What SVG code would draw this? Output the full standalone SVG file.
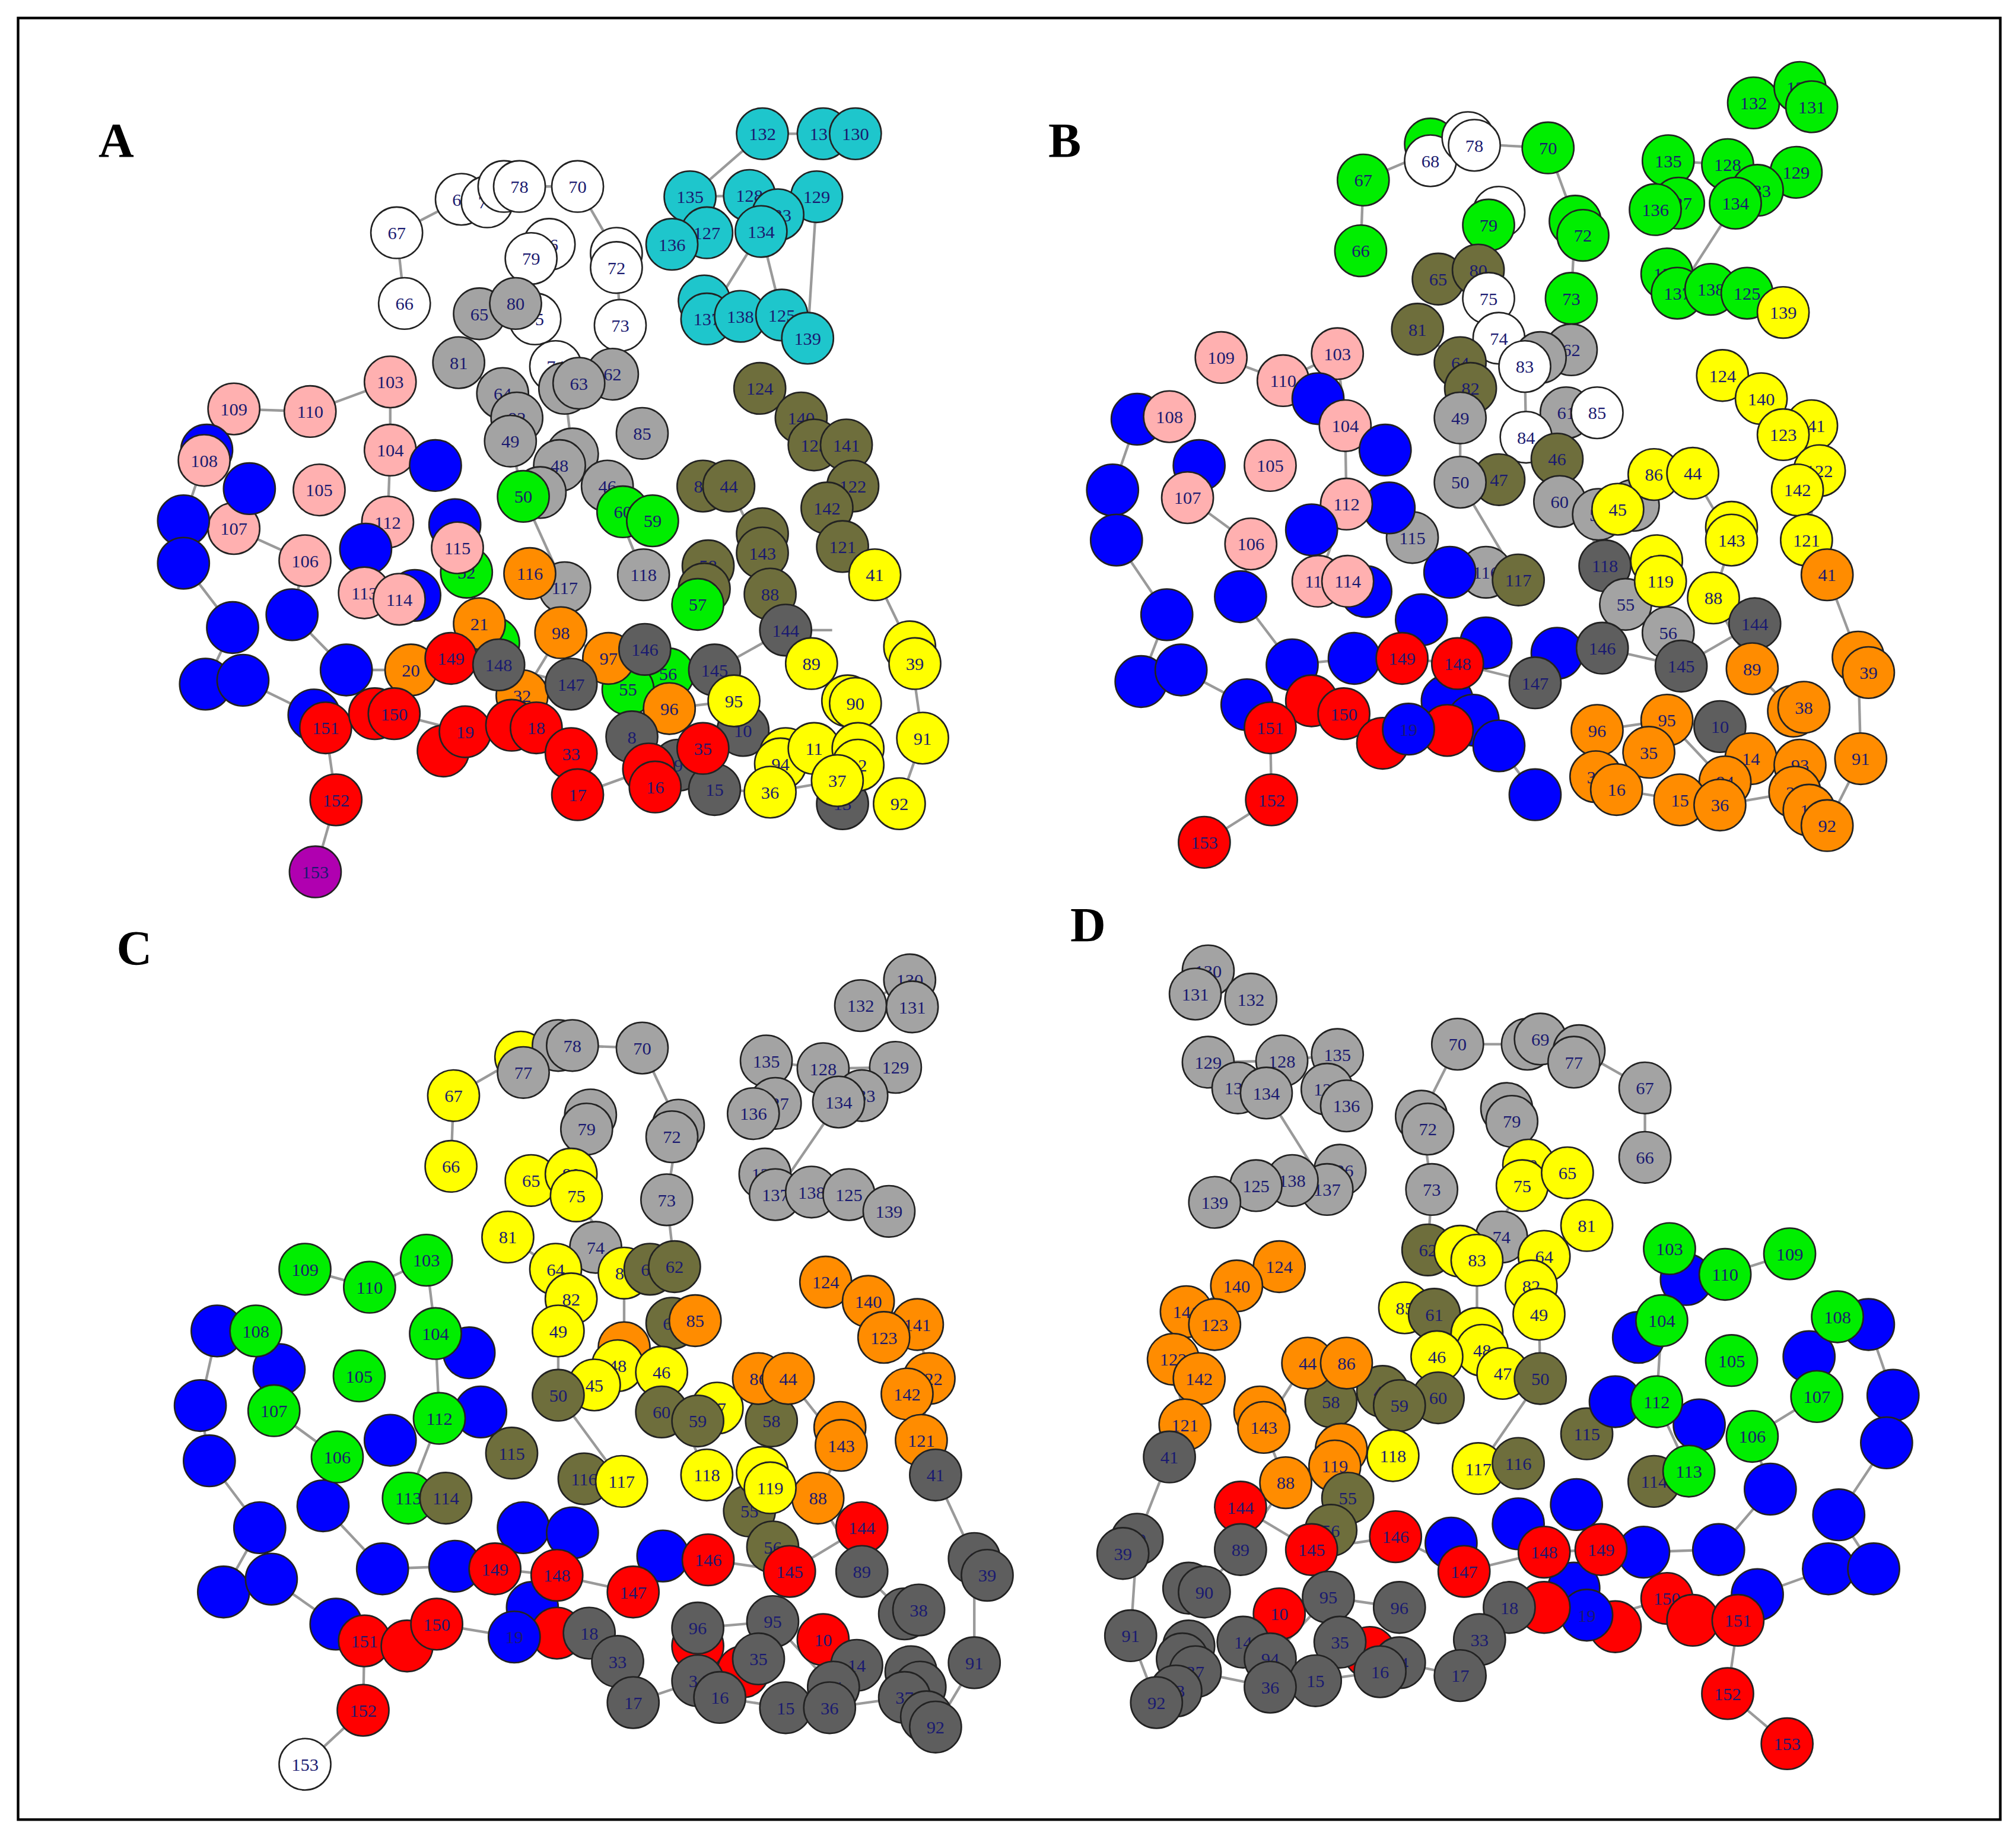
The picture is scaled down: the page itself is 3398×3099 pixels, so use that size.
<svg xmlns="http://www.w3.org/2000/svg" width="3398" height="3099" viewBox="0 0 3398 3099">
<style>
circle{stroke:#222;stroke-width:1.2}
text{font-family:"Liberation Serif",serif;font-size:14px;fill:#1a1a70;text-anchor:middle}
.lbl{font-size:38px;font-weight:bold;fill:#000}
.w circle{fill:#fff}.g circle{fill:#a3a3a3}.d circle{fill:#5e5e5e}.o circle{fill:#6e6e3c}
.c circle{fill:#1ec6cc}.p circle{fill:#ffb0b0}.b circle{fill:#0000ff}.r circle{fill:#ff0000}
.n circle{fill:#ff8c00}.y circle{fill:#ffff00}.e circle{fill:#00ee00}.m circle{fill:#b000b0}
.ed{stroke:#9a9a9a;stroke-width:2;fill:none}
</style>
<rect width="3398" height="3099" fill="#fff"/>
<g transform="scale(2.178,2.167)">
<rect x="14" y="14" width="1534" height="1401" fill="none" stroke="#000" stroke-width="2"/>
<text class="lbl" x="90" y="122">A</text><text class="lbl" x="824" y="122">B</text>
<text class="lbl" x="104" y="750">C</text><text class="lbl" x="842" y="732">D</text>
<g id="connectors">
<path class="ed" d="M590 104L637 104L662 104M534 153L580 152L632 153M580 152L589 180L547 248L573 246L605 245L625 263M520 190L547 181L534 153M605 245L589 180M588 302L620 325L655 346L660 378L652 425L677 447L704 503L714 574L696 625M544 378L564 378L590 430L596 462L628 516L656 546M307 181L313 236M307 181L357 155L402 145L447 145L477 197L480 253L474 291M371 244L399 236L414 248L437 302L443 353L470 378L498 447M355 282L389 306L400 325L395 343L405 386L437 457M181 318L240 320L302 297L302 350L300 406L282 461M158 358L142 405L142 438L180 488L159 532L188 529L243 556L252 566L260 622L244 678M181 411L236 436L226 478L268 521L318 521L349 512L386 517L442 532L499 505L553 521L608 490L644 490M305 555L360 569L415 566L442 586L447 618L502 598L507 612L553 614L596 616L648 607M404 541L434 492L471 512L518 551L568 545L604 592M588 302L630 346M590 104L534 153M632 153L625 263"/>
<path class="ed" d="M1357 80L1393 68L1402 83M1291 125L1337 128L1390 134M1337 128L1343 158L1298 228L1324 225L1352 228L1380 243M1281 163L1299 158L1291 125M1333 292L1363 310L1402 331L1408 366L1398 420L1414 447L1438 511L1440 590L1414 642M1280 369L1310 368L1340 420L1326 465L1356 520L1388 553M1055 140L1053 195M1055 140L1107 118L1141 112L1198 115L1219 172L1216 232L1216 272M1113 217L1144 210L1152 232L1180 285L1181 340L1205 357L1242 440M1097 256L1130 282L1138 302L1130 325L1130 375L1175 451M945 278L993 296L1035 275L1041 331L1042 392L1020 452M905 324L880 326L861 381L864 420L903 478L883 530L914 521L965 548L983 566L984 622L932 655M919 387L968 423L960 464L1000 517L1048 512L1085 512L1128 516L1188 531L1240 504L1301 518L1358 485M1040 555L1090 567L1135 550L1160 580L1188 618M1236 568L1290 560L1335 608M1235 604L1251 614L1300 622L1331 626L1389 616"/>
<path class="ed" d="M666 782L704 762L706 783M593 825L637 831L693 830M637 831L649 857L600 929L628 927L657 929L688 942M583 866L600 858L593 825M639 997L672 1012L710 1030L719 1072L713 1120L724 1147L754 1212L754 1293L724 1343M587 1072L610 1072L651 1124L633 1165L667 1222L700 1255M351 852L349 907M351 852L403 822L443 813L497 815L525 875L516 933L522 985M411 918L442 913L446 930L483 990L483 1048L512 1067L547 1147M393 962L430 987L442 1010L432 1035L432 1085L481 1152M236 987L286 1001L330 980L337 1037L340 1103L316 1165M198 1035L168 1035L155 1093L162 1136L201 1188L173 1238L210 1228L260 1263L282 1276L281 1330L236 1372M212 1097L261 1133L250 1171L296 1220L352 1218L383 1220L431 1225L490 1238L548 1213L611 1222L667 1188M338 1263L398 1273L456 1270L478 1292L490 1324L540 1307L557 1320L608 1328L642 1328L700 1320M540 1266L598 1261L645 1312"/>
<path class="ed" d="M968 777L935 755L925 773M1035 820L992 825L935 826M992 825L980 850L1027 925L1000 918L972 922L940 935M1042 860L1027 847L1035 820M990 985L957 1000L918 1020L908 1057L917 1108L905 1133L880 1197L875 1272L895 1324M1040 1060L1010 1060L978 1110L995 1153L960 1205L930 1238M1273 846L1273 900M1273 846L1222 817L1184 812L1128 812L1100 868L1108 925L1105 972M1213 912L1183 906L1178 922L1143 980L1143 1037L1112 1055L1078 1132M1228 953L1195 977L1185 1000L1191 1022L1192 1072L1144 1142M1385 975L1335 991L1292 971L1286 1027L1282 1090L1307 1144M1422 1024L1446 1030L1465 1085L1460 1122L1423 1178L1450 1220L1415 1220L1360 1240L1345 1260L1337 1317L1383 1356M1406 1086L1356 1117L1370 1158L1330 1205L1272 1207L1239 1205L1195 1207L1133 1222L1080 1195L1015 1205L960 1172M1290 1243L1228 1262L1168 1250L1145 1275L1130 1303L1083 1293L1068 1300L1018 1307L983 1312L925 1300M1083 1250L1028 1242L983 1290"/>
</g>
<!-- Panel A -->
<g id="A67" class="w"><circle cx="307" cy="181" r="20"/><text x="307" y="186">67</text></g>
<g id="A66" class="w"><circle cx="313" cy="236" r="20"/><text x="313" y="241">66</text></g>
<g id="A68" class="w"><circle cx="357" cy="155" r="20"/><text x="357" y="160">68</text></g>
<g id="A77" class="w"><circle cx="377" cy="157" r="20"/><text x="377" y="162">77</text></g>
<g id="A69" class="w"><circle cx="390" cy="145" r="20"/><text x="390" y="150">69</text></g>
<g id="A78" class="w"><circle cx="402" cy="145" r="20"/><text x="402" y="150">78</text></g>
<g id="A70" class="w"><circle cx="447" cy="145" r="20"/><text x="447" y="150">70</text></g>
<g id="A76" class="w"><circle cx="425" cy="190" r="20"/><text x="425" y="195">76</text></g>
<g id="A79" class="w"><circle cx="411" cy="201" r="20"/><text x="411" y="206">79</text></g>
<g id="A71" class="w"><circle cx="477" cy="197" r="20"/><text x="477" y="200">71</text></g>
<g id="A72" class="w"><circle cx="477" cy="208" r="20"/><text x="477" y="213">72</text></g>
<g id="A73" class="w"><circle cx="480" cy="253" r="20"/><text x="480" y="258">73</text></g>
<g id="A75" class="w"><circle cx="414" cy="248" r="20"/><text x="414" y="253">75</text></g>
<g id="A74" class="w"><circle cx="430" cy="285" r="20"/><text x="430" y="290">74</text></g>
<g id="A65" class="g"><circle cx="371" cy="244" r="20"/><text x="371" y="249">65</text></g>
<g id="A80" class="g"><circle cx="399" cy="236" r="20"/><text x="399" y="241">80</text></g>
<g id="A81" class="g"><circle cx="355" cy="282" r="20"/><text x="355" y="287">81</text></g>
<g id="A64" class="g"><circle cx="389" cy="306" r="20"/><text x="389" y="311">64</text></g>
<g id="A82" class="g"><circle cx="400" cy="325" r="20"/><text x="400" y="330">82</text></g>
<g id="A49" class="g"><circle cx="395" cy="343" r="20"/><text x="395" y="348">49</text></g>
<g id="A62" class="g"><circle cx="474" cy="291" r="20"/><text x="474" y="296">62</text></g>
<g id="A83" class="g"><circle cx="437" cy="302" r="20"/><text x="437" y="307">83</text></g>
<g id="A63" class="g"><circle cx="448" cy="298" r="20"/><text x="448" y="303">63</text></g>
<g id="A85" class="g"><circle cx="497" cy="337" r="20"/><text x="497" y="342">85</text></g>
<g id="A84" class="g"><circle cx="443" cy="353" r="20"/><text x="443" y="358">84</text></g>
<g id="A48" class="g"><circle cx="433" cy="362" r="20"/><text x="433" y="367">48</text></g>
<g id="A46" class="g"><circle cx="470" cy="378" r="20"/><text x="470" y="383">46</text></g>
<g id="A47" class="g"><circle cx="418" cy="383" r="20"/><text x="418" y="388">47</text></g>
<g id="A117" class="g"><circle cx="437" cy="457" r="20"/><text x="437" y="462">117</text></g>
<g id="A118" class="g"><circle cx="498" cy="447" r="20"/><text x="498" y="452">118</text></g>
<g id="A132" class="c"><circle cx="590" cy="104" r="20"/><text x="590" y="109">132</text></g>
<g id="A131" class="c"><circle cx="637" cy="104" r="20"/><text x="637" y="109">131</text></g>
<g id="A130" class="c"><circle cx="662" cy="104" r="20"/><text x="662" y="109">130</text></g>
<g id="A135" class="c"><circle cx="534" cy="153" r="20"/><text x="534" y="158">135</text></g>
<g id="A128" class="c"><circle cx="580" cy="152" r="20"/><text x="580" y="157">128</text></g>
<g id="A129" class="c"><circle cx="632" cy="153" r="20"/><text x="632" y="158">129</text></g>
<g id="A133" class="c"><circle cx="602" cy="167" r="20"/><text x="602" y="172">133</text></g>
<g id="A134" class="c"><circle cx="589" cy="180" r="20"/><text x="589" y="185">134</text></g>
<g id="A127" class="c"><circle cx="547" cy="181" r="20"/><text x="547" y="186">127</text></g>
<g id="A136" class="c"><circle cx="520" cy="190" r="20"/><text x="520" y="195">136</text></g>
<g id="A126" class="c"><circle cx="545" cy="234" r="20"/><text x="545" y="239">126</text></g>
<g id="A137" class="c"><circle cx="547" cy="248" r="20"/><text x="547" y="253">137</text></g>
<g id="A138" class="c"><circle cx="573" cy="246" r="20"/><text x="573" y="251">138</text></g>
<g id="A125" class="c"><circle cx="605" cy="245" r="20"/><text x="605" y="250">125</text></g>
<g id="A139" class="c"><circle cx="625" cy="263" r="20"/><text x="625" y="268">139</text></g>
<g id="A124" class="o"><circle cx="588" cy="302" r="20"/><text x="588" y="307">124</text></g>
<g id="A140" class="o"><circle cx="620" cy="325" r="20"/><text x="620" y="330">140</text></g>
<g id="A123" class="o"><circle cx="630" cy="346" r="20"/><text x="630" y="351">123</text></g>
<g id="A141" class="o"><circle cx="655" cy="346" r="20"/><text x="655" y="351">141</text></g>
<g id="A122" class="o"><circle cx="660" cy="378" r="20"/><text x="660" y="383">122</text></g>
<g id="A86" class="o"><circle cx="544" cy="378" r="20"/><text x="544" y="383">86</text></g>
<g id="A44" class="o"><circle cx="564" cy="378" r="20"/><text x="564" y="383">44</text></g>
<g id="A142" class="o"><circle cx="640" cy="395" r="20"/><text x="640" y="400">142</text></g>
<g id="A120" class="o"><circle cx="590" cy="415" r="20"/><text x="590" y="420">120</text></g>
<g id="A143" class="o"><circle cx="590" cy="430" r="20"/><text x="590" y="435">143</text></g>
<g id="A121" class="o"><circle cx="652" cy="425" r="20"/><text x="652" y="430">121</text></g>
<g id="A58" class="o"><circle cx="548" cy="440" r="20"/><text x="548" y="445">58</text></g>
<g id="A119" class="o"><circle cx="545" cy="458" r="20"/><text x="545" y="463">119</text></g>
<g id="A88" class="o"><circle cx="596" cy="462" r="20"/><text x="596" y="467">88</text></g>
<g id="A50" class="e"><circle cx="405" cy="386" r="20"/><text x="405" y="391">50</text></g>
<g id="A60" class="e"><circle cx="482" cy="398" r="20"/><text x="482" y="403">60</text></g>
<g id="A59" class="e"><circle cx="505" cy="405" r="20"/><text x="505" y="410">59</text></g>
<g id="A52" class="e"><circle cx="361" cy="445" r="20"/><text x="361" y="450">52</text></g>
<g id="A57" class="e"><circle cx="540" cy="470" r="20"/><text x="540" y="475">57</text></g>
<g id="A53" class="e"><circle cx="382" cy="500" r="20"/><text x="382" y="505">53</text></g>
<g id="A56" class="e"><circle cx="517" cy="524" r="20"/><text x="517" y="529">56</text></g>
<g id="A55" class="e"><circle cx="486" cy="536" r="20"/><text x="486" y="541">55</text></g>
<g id="A109" class="p"><circle cx="181" cy="318" r="20"/><text x="181" y="323">109</text></g>
<g id="A110" class="p"><circle cx="240" cy="320" r="20"/><text x="240" y="325">110</text></g>
<g id="A103" class="p"><circle cx="302" cy="297" r="20"/><text x="302" y="302">103</text></g>
<g id="A104" class="p"><circle cx="302" cy="350" r="20"/><text x="302" y="355">104</text></g>
<g id="AB1" class="b"><circle cx="160" cy="350" r="20"/></g>
<g id="A108" class="p"><circle cx="158" cy="358" r="20"/><text x="158" y="363">108</text></g>
<g id="A107" class="p"><circle cx="181" cy="411" r="20"/><text x="181" y="416">107</text></g>
<g id="A105" class="p"><circle cx="247" cy="381" r="20"/><text x="247" y="386">105</text></g>
<g id="A106" class="p"><circle cx="236" cy="436" r="20"/><text x="236" y="441">106</text></g>
<g id="A112" class="p"><circle cx="300" cy="406" r="20"/><text x="300" y="411">112</text></g>
<g id="AB2" class="b"><circle cx="193" cy="380" r="20"/></g>
<g id="AB3" class="b"><circle cx="142" cy="405" r="20"/></g>
<g id="AB4" class="b"><circle cx="142" cy="438" r="20"/></g>
<g id="AB5" class="b"><circle cx="180" cy="488" r="20"/></g>
<g id="AB6" class="b"><circle cx="226" cy="478" r="20"/></g>
<g id="AB7" class="b"><circle cx="159" cy="532" r="20"/></g>
<g id="AB8" class="b"><circle cx="188" cy="529" r="20"/></g>
<g id="AB9" class="b"><circle cx="268" cy="521" r="20"/></g>
<g id="AB10" class="b"><circle cx="243" cy="556" r="20"/></g>
<g id="AB11" class="b"><circle cx="283" cy="427" r="20"/></g>
<g id="AB12" class="b"><circle cx="337" cy="362" r="20"/></g>
<g id="AB13" class="b"><circle cx="321" cy="463" r="20"/></g>
<g id="AB14" class="b"><circle cx="352" cy="408" r="20"/></g>
<g id="A113" class="p"><circle cx="282" cy="461" r="20"/><text x="282" y="466">113</text></g>
<g id="A114" class="p"><circle cx="309" cy="466" r="20"/><text x="309" y="471">114</text></g>
<g id="A115" class="p"><circle cx="354" cy="426" r="20"/><text x="354" y="431">115</text></g>
<g id="A116" class="n"><circle cx="410" cy="446" r="20"/><text x="410" y="451">116</text></g>
<g id="A21" class="n"><circle cx="371" cy="485" r="20"/><text x="371" y="490">21</text></g>
<g id="A98" class="n"><circle cx="434" cy="492" r="20"/><text x="434" y="497">98</text></g>
<g id="A97" class="n"><circle cx="471" cy="512" r="20"/><text x="471" y="517">97</text></g>
<g id="A20" class="n"><circle cx="318" cy="521" r="20"/><text x="318" y="526">20</text></g>
<g id="A32" class="n"><circle cx="404" cy="541" r="20"/><text x="404" y="546">32</text></g>
<g id="A96" class="n"><circle cx="518" cy="551" r="20"/><text x="518" y="556">96</text></g>
<g id="A149" class="r"><circle cx="349" cy="512" r="20"/><text x="349" y="517">149</text></g>
<g id="A148" class="d"><circle cx="386" cy="517" r="20"/><text x="386" y="522">148</text></g>
<g id="A147" class="d"><circle cx="442" cy="532" r="20"/><text x="442" y="537">147</text></g>
<g id="A146" class="d"><circle cx="499" cy="505" r="20"/><text x="499" y="510">146</text></g>
<g id="A145" class="d"><circle cx="553" cy="521" r="20"/><text x="553" y="526">145</text></g>
<g id="A144" class="d"><circle cx="608" cy="490" r="20"/><text x="608" y="495">144</text></g>
<g id="A8" class="d"><circle cx="489" cy="573" r="20"/><text x="489" y="578">8</text></g>
<g id="A10" class="d"><circle cx="575" cy="568" r="20"/><text x="575" y="573">10</text></g>
<g id="A9" class="d"><circle cx="525" cy="595" r="20"/><text x="525" y="600">9</text></g>
<g id="A15" class="d"><circle cx="553" cy="614" r="20"/><text x="553" y="619">15</text></g>
<g id="A13" class="d"><circle cx="652" cy="625" r="20"/><text x="652" y="630">13</text></g>
<g id="A151" class="r"><circle cx="252" cy="566" r="20"/><text x="252" y="571">151</text></g>
<g id="AR1" class="r"><circle cx="290" cy="555" r="20"/></g>
<g id="A150" class="r"><circle cx="305" cy="555" r="20"/><text x="305" y="560">150</text></g>
<g id="AR2" class="r"><circle cx="343" cy="584" r="20"/></g>
<g id="A19" class="r"><circle cx="360" cy="569" r="20"/><text x="360" y="574">19</text></g>
<g id="AR3" class="r"><circle cx="396" cy="564" r="20"/></g>
<g id="A18" class="r"><circle cx="415" cy="566" r="20"/><text x="415" y="571">18</text></g>
<g id="A33" class="r"><circle cx="442" cy="586" r="20"/><text x="442" y="591">33</text></g>
<g id="A17" class="r"><circle cx="447" cy="618" r="20"/><text x="447" y="623">17</text></g>
<g id="A34" class="r"><circle cx="502" cy="598" r="20"/><text x="502" y="603">34</text></g>
<g id="A16" class="r"><circle cx="507" cy="612" r="20"/><text x="507" y="617">16</text></g>
<g id="A35" class="r"><circle cx="544" cy="582" r="20"/><text x="544" y="587">35</text></g>
<g id="A152" class="r"><circle cx="260" cy="622" r="20"/><text x="260" y="627">152</text></g>
<g id="A153" class="m"><circle cx="244" cy="678" r="20"/><text x="244" y="683">153</text></g>
<g id="A41" class="y"><circle cx="677" cy="447" r="20"/><text x="677" y="452">41</text></g>
<g id="A40" class="y"><circle cx="704" cy="503" r="20"/><text x="704" y="508">40</text></g>
<g id="A39" class="y"><circle cx="708" cy="516" r="20"/><text x="708" y="521">39</text></g>
<g id="A89" class="y"><circle cx="628" cy="516" r="20"/><text x="628" y="521">89</text></g>
<g id="A95" class="y"><circle cx="568" cy="545" r="20"/><text x="568" y="550">95</text></g>
<g id="A38" class="y"><circle cx="656" cy="545" r="20"/><text x="656" y="550">38</text></g>
<g id="A90" class="y"><circle cx="662" cy="547" r="20"/><text x="662" y="552">90</text></g>
<g id="A14" class="y"><circle cx="608" cy="586" r="20"/><text x="608" y="591">14</text></g>
<g id="A94" class="y"><circle cx="604" cy="594" r="20"/><text x="604" y="599">94</text></g>
<g id="A11" class="y"><circle cx="630" cy="582" r="20"/><text x="630" y="587">11</text></g>
<g id="A93" class="y"><circle cx="664" cy="582" r="20"/><text x="664" y="587">93</text></g>
<g id="A12" class="y"><circle cx="664" cy="595" r="20"/><text x="664" y="600">12</text></g>
<g id="A91" class="y"><circle cx="714" cy="574" r="20"/><text x="714" y="579">91</text></g>
<g id="A37" class="y"><circle cx="648" cy="607" r="20"/><text x="648" y="612">37</text></g>
<g id="A36" class="y"><circle cx="596" cy="616" r="20"/><text x="596" y="621">36</text></g>
<g id="A92" class="y"><circle cx="696" cy="625" r="20"/><text x="696" y="630">92</text></g>
<!-- Panel B -->
<g id="B132" class="e"><circle cx="1357" cy="80" r="20"/><text x="1357" y="85">132</text></g>
<g id="B130" class="e"><circle cx="1393" cy="68" r="20"/><text x="1393" y="73">130</text></g>
<g id="B131" class="e"><circle cx="1402" cy="83" r="20"/><text x="1402" y="88">131</text></g>
<g id="B70" class="e"><circle cx="1198" cy="115" r="20"/><text x="1198" y="120">70</text></g>
<g id="B67" class="e"><circle cx="1055" cy="140" r="20"/><text x="1055" y="145">67</text></g>
<g id="B66" class="e"><circle cx="1053" cy="195" r="20"/><text x="1053" y="200">66</text></g>
<g id="B77" class="e"><circle cx="1107" cy="112" r="20"/><text x="1107" y="117">77</text></g>
<g id="B68" class="w"><circle cx="1107" cy="125" r="20"/><text x="1107" y="130">68</text></g>
<g id="B69" class="w"><circle cx="1136" cy="107" r="20"/><text x="1136" y="112">69</text></g>
<g id="B78" class="w"><circle cx="1141" cy="113" r="20"/><text x="1141" y="118">78</text></g>
<g id="B135" class="e"><circle cx="1291" cy="125" r="20"/><text x="1291" y="130">135</text></g>
<g id="B128" class="e"><circle cx="1337" cy="128" r="20"/><text x="1337" y="133">128</text></g>
<g id="B129" class="e"><circle cx="1390" cy="134" r="20"/><text x="1390" y="139">129</text></g>
<g id="B133" class="e"><circle cx="1360" cy="148" r="20"/><text x="1360" y="153">133</text></g>
<g id="B134" class="e"><circle cx="1343" cy="158" r="20"/><text x="1343" y="163">134</text></g>
<g id="B127" class="e"><circle cx="1299" cy="158" r="20"/><text x="1299" y="163">127</text></g>
<g id="B136" class="e"><circle cx="1281" cy="163" r="20"/><text x="1281" y="168">136</text></g>
<g id="B76" class="w"><circle cx="1160" cy="165" r="20"/><text x="1160" y="170">76</text></g>
<g id="B79" class="e"><circle cx="1152" cy="175" r="20"/><text x="1152" y="180">79</text></g>
<g id="B71" class="e"><circle cx="1219" cy="172" r="20"/><text x="1219" y="177">71</text></g>
<g id="B72" class="e"><circle cx="1225" cy="183" r="20"/><text x="1225" y="188">72</text></g>
<g id="B73" class="e"><circle cx="1216" cy="232" r="20"/><text x="1216" y="237">73</text></g>
<g id="B126" class="e"><circle cx="1290" cy="213" r="20"/><text x="1290" y="218">126</text></g>
<g id="B137" class="e"><circle cx="1298" cy="228" r="20"/><text x="1298" y="233">137</text></g>
<g id="B138" class="e"><circle cx="1324" cy="225" r="20"/><text x="1324" y="230">138</text></g>
<g id="B125" class="e"><circle cx="1352" cy="228" r="20"/><text x="1352" y="233">125</text></g>
<g id="B139" class="y"><circle cx="1380" cy="243" r="20"/><text x="1380" y="248">139</text></g>
<g id="B65" class="o"><circle cx="1113" cy="217" r="20"/><text x="1113" y="222">65</text></g>
<g id="B80" class="o"><circle cx="1144" cy="210" r="20"/><text x="1144" y="215">80</text></g>
<g id="B75" class="w"><circle cx="1152" cy="232" r="20"/><text x="1152" y="237">75</text></g>
<g id="B81" class="o"><circle cx="1097" cy="256" r="20"/><text x="1097" y="261">81</text></g>
<g id="B74" class="w"><circle cx="1160" cy="263" r="20"/><text x="1160" y="268">74</text></g>
<g id="B62" class="g"><circle cx="1216" cy="272" r="20"/><text x="1216" y="277">62</text></g>
<g id="B63" class="g"><circle cx="1192" cy="278" r="20"/><text x="1192" y="283">63</text></g>
<g id="B64" class="o"><circle cx="1130" cy="282" r="20"/><text x="1130" y="287">64</text></g>
<g id="B83" class="w"><circle cx="1180" cy="285" r="20"/><text x="1180" y="290">83</text></g>
<g id="B82" class="o"><circle cx="1138" cy="302" r="20"/><text x="1138" y="307">82</text></g>
<g id="B49" class="g"><circle cx="1130" cy="325" r="20"/><text x="1130" y="330">49</text></g>
<g id="B61" class="g"><circle cx="1212" cy="321" r="20"/><text x="1212" y="326">61</text></g>
<g id="B85" class="w"><circle cx="1236" cy="321" r="20"/><text x="1236" y="326">85</text></g>
<g id="B84" class="w"><circle cx="1181" cy="340" r="20"/><text x="1181" y="345">84</text></g>
<g id="B46" class="o"><circle cx="1205" cy="357" r="20"/><text x="1205" y="362">46</text></g>
<g id="B47" class="o"><circle cx="1160" cy="373" r="20"/><text x="1160" y="378">47</text></g>
<g id="B50" class="g"><circle cx="1130" cy="375" r="20"/><text x="1130" y="380">50</text></g>
<g id="B60" class="g"><circle cx="1207" cy="390" r="20"/><text x="1207" y="395">60</text></g>
<g id="B59" class="g"><circle cx="1237" cy="400" r="20"/><text x="1237" y="405">59</text></g>
<g id="B58" class="g"><circle cx="1264" cy="393" r="20"/><text x="1264" y="398">58</text></g>
<g id="B115" class="g"><circle cx="1093" cy="418" r="20"/><text x="1093" y="423">115</text></g>
<g id="B116" class="g"><circle cx="1150" cy="445" r="20"/><text x="1150" y="450">116</text></g>
<g id="B117" class="o"><circle cx="1175" cy="451" r="20"/><text x="1175" y="456">117</text></g>
<g id="B118" class="d"><circle cx="1242" cy="440" r="20"/><text x="1242" y="445">118</text></g>
<g id="B55" class="g"><circle cx="1258" cy="470" r="20"/><text x="1258" y="475">55</text></g>
<g id="B56" class="g"><circle cx="1291" cy="492" r="20"/><text x="1291" y="497">56</text></g>
<g id="B124" class="y"><circle cx="1333" cy="292" r="20"/><text x="1333" y="297">124</text></g>
<g id="B140" class="y"><circle cx="1363" cy="310" r="20"/><text x="1363" y="315">140</text></g>
<g id="B141" class="y"><circle cx="1402" cy="331" r="20"/><text x="1402" y="336">141</text></g>
<g id="B123" class="y"><circle cx="1380" cy="338" r="20"/><text x="1380" y="343">123</text></g>
<g id="B122" class="y"><circle cx="1408" cy="366" r="20"/><text x="1408" y="371">122</text></g>
<g id="B142" class="y"><circle cx="1391" cy="381" r="20"/><text x="1391" y="386">142</text></g>
<g id="B86" class="y"><circle cx="1280" cy="369" r="20"/><text x="1280" y="374">86</text></g>
<g id="B44" class="y"><circle cx="1310" cy="368" r="20"/><text x="1310" y="373">44</text></g>
<g id="B45" class="y"><circle cx="1252" cy="396" r="20"/><text x="1252" y="401">45</text></g>
<g id="B120" class="y"><circle cx="1340" cy="410" r="20"/><text x="1340" y="415">120</text></g>
<g id="B143" class="y"><circle cx="1340" cy="420" r="20"/><text x="1340" y="425">143</text></g>
<g id="B121" class="y"><circle cx="1398" cy="420" r="20"/><text x="1398" y="425">121</text></g>
<g id="B87" class="y"><circle cx="1282" cy="436" r="20"/><text x="1282" y="441">87</text></g>
<g id="B119" class="y"><circle cx="1285" cy="452" r="20"/><text x="1285" y="457">119</text></g>
<g id="B88" class="y"><circle cx="1326" cy="465" r="20"/><text x="1326" y="470">88</text></g>
<g id="B109" class="p"><circle cx="945" cy="278" r="20"/><text x="945" y="283">109</text></g>
<g id="B110" class="p"><circle cx="993" cy="296" r="20"/><text x="993" y="301">110</text></g>
<g id="B103" class="p"><circle cx="1035" cy="275" r="20"/><text x="1035" y="280">103</text></g>
<g id="BB1" class="b"><circle cx="1020" cy="310" r="20"/></g>
<g id="B104" class="p"><circle cx="1041" cy="331" r="20"/><text x="1041" y="336">104</text></g>
<g id="BB2" class="b"><circle cx="880" cy="326" r="20"/></g>
<g id="B108" class="p"><circle cx="905" cy="324" r="20"/><text x="905" y="329">108</text></g>
<g id="BB3" class="b"><circle cx="1072" cy="350" r="20"/></g>
<g id="BB4" class="b"><circle cx="928" cy="362" r="20"/></g>
<g id="B105" class="p"><circle cx="983" cy="362" r="20"/><text x="983" y="367">105</text></g>
<g id="BB5" class="b"><circle cx="861" cy="381" r="20"/></g>
<g id="B107" class="p"><circle cx="919" cy="387" r="20"/><text x="919" y="392">107</text></g>
<g id="BB6" class="b"><circle cx="1075" cy="395" r="20"/></g>
<g id="B112" class="p"><circle cx="1042" cy="392" r="20"/><text x="1042" y="397">112</text></g>
<g id="BB7" class="b"><circle cx="864" cy="420" r="20"/></g>
<g id="BB8" class="b"><circle cx="1015" cy="412" r="20"/></g>
<g id="B106" class="p"><circle cx="968" cy="423" r="20"/><text x="968" y="428">106</text></g>
<g id="BB9" class="b"><circle cx="1122" cy="445" r="20"/></g>
<g id="BB10" class="b"><circle cx="1057" cy="460" r="20"/></g>
<g id="B113" class="p"><circle cx="1020" cy="452" r="20"/><text x="1020" y="457">113</text></g>
<g id="B114" class="p"><circle cx="1043" cy="452" r="20"/><text x="1043" y="457">114</text></g>
<g id="BB11" class="b"><circle cx="903" cy="478" r="20"/></g>
<g id="BB12" class="b"><circle cx="960" cy="464" r="20"/></g>
<g id="BB13" class="b"><circle cx="1100" cy="482" r="20"/></g>
<g id="BB14" class="b"><circle cx="1150" cy="500" r="20"/></g>
<g id="BB15" class="b"><circle cx="1205" cy="508" r="20"/></g>
<g id="BB16" class="b"><circle cx="883" cy="530" r="20"/></g>
<g id="BB17" class="b"><circle cx="914" cy="521" r="20"/></g>
<g id="BB18" class="b"><circle cx="1000" cy="517" r="20"/></g>
<g id="BB19" class="b"><circle cx="1048" cy="512" r="20"/></g>
<g id="BB20" class="b"><circle cx="965" cy="548" r="20"/></g>
<g id="BB21" class="b"><circle cx="1120" cy="545" r="20"/></g>
<g id="BB22" class="b"><circle cx="1140" cy="560" r="20"/></g>
<g id="BB23" class="b"><circle cx="1160" cy="580" r="20"/></g>
<g id="BB24" class="b"><circle cx="1188" cy="618" r="20"/></g>
<g id="B149" class="r"><circle cx="1085" cy="512" r="20"/><text x="1085" y="517">149</text></g>
<g id="B148" class="r"><circle cx="1128" cy="516" r="20"/><text x="1128" y="521">148</text></g>
<g id="BR1" class="r"><circle cx="1015" cy="545" r="20"/></g>
<g id="B150" class="r"><circle cx="1040" cy="555" r="20"/><text x="1040" y="560">150</text></g>
<g id="B151" class="r"><circle cx="983" cy="566" r="20"/><text x="983" y="571">151</text></g>
<g id="BR2" class="r"><circle cx="1070" cy="578" r="20"/></g>
<g id="BR3" class="r"><circle cx="1120" cy="568" r="20"/></g>
<g id="B19" class="b"><circle cx="1090" cy="567" r="20"/><text x="1090" y="572">19</text></g>
<g id="B152" class="r"><circle cx="984" cy="622" r="20"/><text x="984" y="627">152</text></g>
<g id="B153" class="r"><circle cx="932" cy="655" r="20"/><text x="932" y="660">153</text></g>
<g id="B147" class="d"><circle cx="1188" cy="531" r="20"/><text x="1188" y="536">147</text></g>
<g id="B146" class="d"><circle cx="1240" cy="504" r="20"/><text x="1240" y="509">146</text></g>
<g id="B145" class="d"><circle cx="1301" cy="518" r="20"/><text x="1301" y="523">145</text></g>
<g id="B144" class="d"><circle cx="1358" cy="485" r="20"/><text x="1358" y="490">144</text></g>
<g id="B10" class="d"><circle cx="1331" cy="565" r="20"/><text x="1331" y="570">10</text></g>
<g id="B41" class="n"><circle cx="1414" cy="447" r="20"/><text x="1414" y="452">41</text></g>
<g id="B40" class="n"><circle cx="1438" cy="511" r="20"/><text x="1438" y="516">40</text></g>
<g id="B39" class="n"><circle cx="1446" cy="523" r="20"/><text x="1446" y="528">39</text></g>
<g id="B89" class="n"><circle cx="1356" cy="520" r="20"/><text x="1356" y="525">89</text></g>
<g id="B95" class="n"><circle cx="1290" cy="560" r="20"/><text x="1290" y="565">95</text></g>
<g id="B96" class="n"><circle cx="1236" cy="568" r="20"/><text x="1236" y="573">96</text></g>
<g id="B90" class="n"><circle cx="1388" cy="553" r="20"/><text x="1388" y="558">90</text></g>
<g id="B38" class="n"><circle cx="1396" cy="550" r="20"/><text x="1396" y="555">38</text></g>
<g id="B35" class="n"><circle cx="1276" cy="585" r="20"/><text x="1276" y="590">35</text></g>
<g id="B14" class="n"><circle cx="1355" cy="590" r="20"/><text x="1355" y="595">14</text></g>
<g id="B93" class="n"><circle cx="1393" cy="595" r="20"/><text x="1393" y="600">93</text></g>
<g id="B91" class="n"><circle cx="1440" cy="590" r="20"/><text x="1440" y="595">91</text></g>
<g id="B34" class="n"><circle cx="1235" cy="604" r="20"/><text x="1235" y="609">34</text></g>
<g id="B16" class="n"><circle cx="1251" cy="614" r="20"/><text x="1251" y="619">16</text></g>
<g id="B94" class="n"><circle cx="1335" cy="608" r="20"/><text x="1335" y="613">94</text></g>
<g id="B37" class="n"><circle cx="1389" cy="616" r="20"/><text x="1389" y="621">37</text></g>
<g id="B15" class="n"><circle cx="1300" cy="622" r="20"/><text x="1300" y="627">15</text></g>
<g id="B36" class="n"><circle cx="1331" cy="626" r="20"/><text x="1331" y="631">36</text></g>
<g id="B13" class="n"><circle cx="1400" cy="630" r="20"/><text x="1400" y="635">13</text></g>
<g id="B92" class="n"><circle cx="1414" cy="642" r="20"/><text x="1414" y="647">92</text></g>
<!-- Panel C -->
<g id="C132" class="g"><circle cx="666" cy="782" r="20"/><text x="666" y="787">132</text></g>
<g id="C130" class="g"><circle cx="704" cy="762" r="20"/><text x="704" y="767">130</text></g>
<g id="C131" class="g"><circle cx="706" cy="783" r="20"/><text x="706" y="788">131</text></g>
<g id="C135" class="g"><circle cx="593" cy="825" r="20"/><text x="593" y="830">135</text></g>
<g id="C128" class="g"><circle cx="637" cy="831" r="20"/><text x="637" y="836">128</text></g>
<g id="C129" class="g"><circle cx="693" cy="830" r="20"/><text x="693" y="835">129</text></g>
<g id="C133" class="g"><circle cx="667" cy="852" r="20"/><text x="667" y="857">133</text></g>
<g id="C134" class="g"><circle cx="649" cy="857" r="20"/><text x="649" y="862">134</text></g>
<g id="C127" class="g"><circle cx="600" cy="858" r="20"/><text x="600" y="863">127</text></g>
<g id="C136" class="g"><circle cx="583" cy="866" r="20"/><text x="583" y="871">136</text></g>
<g id="C70" class="g"><circle cx="497" cy="815" r="20"/><text x="497" y="820">70</text></g>
<g id="C68" class="y"><circle cx="403" cy="822" r="20"/><text x="403" y="827">68</text></g>
<g id="C69" class="g"><circle cx="432" cy="813" r="20"/><text x="432" y="818">69</text></g>
<g id="C78" class="g"><circle cx="443" cy="813" r="20"/><text x="443" y="818">78</text></g>
<g id="C77" class="g"><circle cx="405" cy="834" r="20"/><text x="405" y="839">77</text></g>
<g id="C76" class="g"><circle cx="457" cy="867" r="20"/><text x="457" y="872">76</text></g>
<g id="C79" class="g"><circle cx="454" cy="878" r="20"/><text x="454" y="883">79</text></g>
<g id="C71" class="g"><circle cx="525" cy="875" r="20"/><text x="525" y="880">71</text></g>
<g id="C72" class="g"><circle cx="520" cy="884" r="20"/><text x="520" y="889">72</text></g>
<g id="C73" class="g"><circle cx="516" cy="933" r="20"/><text x="516" y="938">73</text></g>
<g id="C126" class="g"><circle cx="592" cy="913" r="20"/><text x="592" y="918">126</text></g>
<g id="C137" class="g"><circle cx="600" cy="929" r="20"/><text x="600" y="934">137</text></g>
<g id="C138" class="g"><circle cx="628" cy="927" r="20"/><text x="628" y="932">138</text></g>
<g id="C125" class="g"><circle cx="657" cy="929" r="20"/><text x="657" y="934">125</text></g>
<g id="C139" class="g"><circle cx="688" cy="942" r="20"/><text x="688" y="947">139</text></g>
<g id="C67" class="y"><circle cx="351" cy="852" r="20"/><text x="351" y="857">67</text></g>
<g id="C66" class="y"><circle cx="349" cy="907" r="20"/><text x="349" y="912">66</text></g>
<g id="C65" class="y"><circle cx="411" cy="918" r="20"/><text x="411" y="923">65</text></g>
<g id="C80" class="y"><circle cx="442" cy="913" r="20"/><text x="442" y="918">80</text></g>
<g id="C75" class="y"><circle cx="446" cy="930" r="20"/><text x="446" y="935">75</text></g>
<g id="C81" class="y"><circle cx="393" cy="962" r="20"/><text x="393" y="967">81</text></g>
<g id="C74" class="g"><circle cx="461" cy="970" r="20"/><text x="461" y="975">74</text></g>
<g id="C64" class="y"><circle cx="430" cy="987" r="20"/><text x="430" y="992">64</text></g>
<g id="C83" class="y"><circle cx="483" cy="990" r="20"/><text x="483" y="995">83</text></g>
<g id="C63" class="o"><circle cx="503" cy="987" r="20"/><text x="503" y="992">63</text></g>
<g id="C62" class="o"><circle cx="522" cy="985" r="20"/><text x="522" y="990">62</text></g>
<g id="C82" class="y"><circle cx="442" cy="1010" r="20"/><text x="442" y="1015">82</text></g>
<g id="C49" class="y"><circle cx="432" cy="1035" r="20"/><text x="432" y="1040">49</text></g>
<g id="C61" class="o"><circle cx="520" cy="1029" r="20"/><text x="520" y="1034">61</text></g>
<g id="C85" class="n"><circle cx="538" cy="1027" r="20"/><text x="538" y="1032">85</text></g>
<g id="C84" class="n"><circle cx="483" cy="1048" r="20"/><text x="483" y="1053">84</text></g>
<g id="C48" class="y"><circle cx="478" cy="1062" r="20"/><text x="478" y="1067">48</text></g>
<g id="C46" class="y"><circle cx="512" cy="1067" r="20"/><text x="512" y="1072">46</text></g>
<g id="C45" class="y"><circle cx="460" cy="1077" r="20"/><text x="460" y="1082">45</text></g>
<g id="C50" class="o"><circle cx="432" cy="1085" r="20"/><text x="432" y="1090">50</text></g>
<g id="C60" class="o"><circle cx="512" cy="1098" r="20"/><text x="512" y="1103">60</text></g>
<g id="C57" class="y"><circle cx="555" cy="1095" r="20"/><text x="555" y="1100">57</text></g>
<g id="C59" class="o"><circle cx="540" cy="1105" r="20"/><text x="540" y="1110">59</text></g>
<g id="C58" class="o"><circle cx="597" cy="1105" r="20"/><text x="597" y="1110">58</text></g>
<g id="C86" class="n"><circle cx="587" cy="1072" r="20"/><text x="587" y="1077">86</text></g>
<g id="C44" class="n"><circle cx="610" cy="1072" r="20"/><text x="610" y="1077">44</text></g>
<g id="C124" class="n"><circle cx="639" cy="997" r="20"/><text x="639" y="1002">124</text></g>
<g id="C140" class="n"><circle cx="672" cy="1012" r="20"/><text x="672" y="1017">140</text></g>
<g id="C141" class="n"><circle cx="710" cy="1030" r="20"/><text x="710" y="1035">141</text></g>
<g id="C123" class="n"><circle cx="684" cy="1040" r="20"/><text x="684" y="1045">123</text></g>
<g id="C122" class="n"><circle cx="719" cy="1072" r="20"/><text x="719" y="1077">122</text></g>
<g id="C142" class="n"><circle cx="702" cy="1084" r="20"/><text x="702" y="1089">142</text></g>
<g id="C120" class="n"><circle cx="650" cy="1110" r="20"/><text x="650" y="1115">120</text></g>
<g id="C143" class="n"><circle cx="651" cy="1124" r="20"/><text x="651" y="1129">143</text></g>
<g id="C121" class="n"><circle cx="713" cy="1120" r="20"/><text x="713" y="1125">121</text></g>
<g id="C88" class="n"><circle cx="633" cy="1165" r="20"/><text x="633" y="1170">88</text></g>
<g id="C115" class="o"><circle cx="396" cy="1130" r="20"/><text x="396" y="1135">115</text></g>
<g id="C116" class="o"><circle cx="452" cy="1150" r="20"/><text x="452" y="1155">116</text></g>
<g id="C117" class="y"><circle cx="481" cy="1152" r="20"/><text x="481" y="1157">117</text></g>
<g id="C118" class="y"><circle cx="547" cy="1147" r="20"/><text x="547" y="1152">118</text></g>
<g id="C55" class="o"><circle cx="580" cy="1175" r="20"/><text x="580" y="1180">55</text></g>
<g id="C87" class="y"><circle cx="590" cy="1145" r="20"/><text x="590" y="1150">87</text></g>
<g id="C119" class="y"><circle cx="596" cy="1157" r="20"/><text x="596" y="1162">119</text></g>
<g id="C56" class="o"><circle cx="598" cy="1203" r="20"/><text x="598" y="1208">56</text></g>
<g id="CB1" class="b"><circle cx="168" cy="1035" r="20"/></g>
<g id="CB2" class="b"><circle cx="363" cy="1052" r="20"/></g>
<g id="CB3" class="b"><circle cx="216" cy="1065" r="20"/></g>
<g id="CB4" class="b"><circle cx="155" cy="1093" r="20"/></g>
<g id="CB5" class="b"><circle cx="372" cy="1098" r="20"/></g>
<g id="CB6" class="b"><circle cx="302" cy="1120" r="20"/></g>
<g id="CB7" class="b"><circle cx="162" cy="1136" r="20"/></g>
<g id="CB8" class="b"><circle cx="250" cy="1171" r="20"/></g>
<g id="CB9" class="b"><circle cx="201" cy="1188" r="20"/></g>
<g id="CB10" class="b"><circle cx="405" cy="1188" r="20"/></g>
<g id="CB11" class="b"><circle cx="443" cy="1192" r="20"/></g>
<g id="CB12" class="b"><circle cx="513" cy="1210" r="20"/></g>
<g id="CB13" class="b"><circle cx="296" cy="1220" r="20"/></g>
<g id="CB14" class="b"><circle cx="352" cy="1218" r="20"/></g>
<g id="CB15" class="b"><circle cx="173" cy="1238" r="20"/></g>
<g id="CB16" class="b"><circle cx="210" cy="1228" r="20"/></g>
<g id="CB17" class="b"><circle cx="412" cy="1250" r="20"/></g>
<g id="CB18" class="b"><circle cx="260" cy="1263" r="20"/></g>
<g id="C109" class="e"><circle cx="236" cy="987" r="20"/><text x="236" y="992">109</text></g>
<g id="C110" class="e"><circle cx="286" cy="1001" r="20"/><text x="286" y="1006">110</text></g>
<g id="C103" class="e"><circle cx="330" cy="980" r="20"/><text x="330" y="985">103</text></g>
<g id="C104" class="e"><circle cx="337" cy="1037" r="20"/><text x="337" y="1042">104</text></g>
<g id="C108" class="e"><circle cx="198" cy="1035" r="20"/><text x="198" y="1040">108</text></g>
<g id="C105" class="e"><circle cx="278" cy="1070" r="20"/><text x="278" y="1075">105</text></g>
<g id="C107" class="e"><circle cx="212" cy="1097" r="20"/><text x="212" y="1102">107</text></g>
<g id="C112" class="e"><circle cx="340" cy="1103" r="20"/><text x="340" y="1108">112</text></g>
<g id="C106" class="e"><circle cx="261" cy="1133" r="20"/><text x="261" y="1138">106</text></g>
<g id="C113" class="e"><circle cx="316" cy="1165" r="20"/><text x="316" y="1170">113</text></g>
<g id="C114" class="o"><circle cx="345" cy="1165" r="20"/><text x="345" y="1170">114</text></g>
<g id="C149" class="r"><circle cx="383" cy="1220" r="20"/><text x="383" y="1225">149</text></g>
<g id="C148" class="r"><circle cx="431" cy="1225" r="20"/><text x="431" y="1230">148</text></g>
<g id="C147" class="r"><circle cx="490" cy="1238" r="20"/><text x="490" y="1243">147</text></g>
<g id="C146" class="r"><circle cx="548" cy="1213" r="20"/><text x="548" y="1218">146</text></g>
<g id="C145" class="r"><circle cx="611" cy="1222" r="20"/><text x="611" y="1227">145</text></g>
<g id="C144" class="r"><circle cx="667" cy="1188" r="20"/><text x="667" y="1193">144</text></g>
<g id="C151" class="r"><circle cx="282" cy="1276" r="20"/><text x="282" y="1281">151</text></g>
<g id="CR1" class="r"><circle cx="315" cy="1280" r="20"/></g>
<g id="C150" class="r"><circle cx="338" cy="1263" r="20"/><text x="338" y="1268">150</text></g>
<g id="CR2" class="r"><circle cx="431" cy="1270" r="20"/></g>
<g id="C19" class="b"><circle cx="398" cy="1273" r="20"/><text x="398" y="1278">19</text></g>
<g id="CR3" class="r"><circle cx="540" cy="1280" r="20"/></g>
<g id="CR4" class="r"><circle cx="575" cy="1300" r="20"/></g>
<g id="C10" class="r"><circle cx="637" cy="1275" r="20"/><text x="637" y="1280">10</text></g>
<g id="C152" class="r"><circle cx="281" cy="1330" r="20"/><text x="281" y="1335">152</text></g>
<g id="C153" class="w"><circle cx="236" cy="1372" r="20"/><text x="236" y="1377">153</text></g>
<g id="C41" class="d"><circle cx="724" cy="1147" r="20"/><text x="724" y="1152">41</text></g>
<g id="C40" class="d"><circle cx="754" cy="1212" r="20"/><text x="754" y="1217">40</text></g>
<g id="C39" class="d"><circle cx="764" cy="1225" r="20"/><text x="764" y="1230">39</text></g>
<g id="C89" class="d"><circle cx="667" cy="1222" r="20"/><text x="667" y="1227">89</text></g>
<g id="C95" class="d"><circle cx="598" cy="1261" r="20"/><text x="598" y="1266">95</text></g>
<g id="C96" class="d"><circle cx="540" cy="1266" r="20"/><text x="540" y="1271">96</text></g>
<g id="C18" class="d"><circle cx="456" cy="1270" r="20"/><text x="456" y="1275">18</text></g>
<g id="C90" class="d"><circle cx="700" cy="1255" r="20"/><text x="700" y="1260">90</text></g>
<g id="C38" class="d"><circle cx="711" cy="1252" r="20"/><text x="711" y="1257">38</text></g>
<g id="C33" class="d"><circle cx="478" cy="1292" r="20"/><text x="478" y="1297">33</text></g>
<g id="C35" class="d"><circle cx="587" cy="1290" r="20"/><text x="587" y="1295">35</text></g>
<g id="C14" class="d"><circle cx="663" cy="1295" r="20"/><text x="663" y="1300">14</text></g>
<g id="C91" class="d"><circle cx="754" cy="1293" r="20"/><text x="754" y="1298">91</text></g>
<g id="C93" class="d"><circle cx="705" cy="1300" r="20"/><text x="705" y="1305">93</text></g>
<g id="C34" class="d"><circle cx="540" cy="1307" r="20"/><text x="540" y="1312">34</text></g>
<g id="C94" class="d"><circle cx="645" cy="1312" r="20"/><text x="645" y="1317">94</text></g>
<g id="C12" class="d"><circle cx="712" cy="1312" r="20"/><text x="712" y="1317">12</text></g>
<g id="C16" class="d"><circle cx="557" cy="1320" r="20"/><text x="557" y="1325">16</text></g>
<g id="C37" class="d"><circle cx="700" cy="1320" r="20"/><text x="700" y="1325">37</text></g>
<g id="C17" class="d"><circle cx="490" cy="1324" r="20"/><text x="490" y="1329">17</text></g>
<g id="C15" class="d"><circle cx="608" cy="1328" r="20"/><text x="608" y="1333">15</text></g>
<g id="C36" class="d"><circle cx="642" cy="1328" r="20"/><text x="642" y="1333">36</text></g>
<g id="C13" class="d"><circle cx="717" cy="1335" r="20"/><text x="717" y="1340">13</text></g>
<g id="C92" class="d"><circle cx="724" cy="1343" r="20"/><text x="724" y="1348">92</text></g>
<!-- Panel D -->
<g id="D130" class="g"><circle cx="935" cy="755" r="20"/><text x="935" y="760">130</text></g>
<g id="D131" class="g"><circle cx="925" cy="773" r="20"/><text x="925" y="778">131</text></g>
<g id="D132" class="g"><circle cx="968" cy="777" r="20"/><text x="968" y="782">132</text></g>
<g id="D129" class="g"><circle cx="935" cy="826" r="20"/><text x="935" y="831">129</text></g>
<g id="D128" class="g"><circle cx="992" cy="825" r="20"/><text x="992" y="830">128</text></g>
<g id="D135" class="g"><circle cx="1035" cy="820" r="20"/><text x="1035" y="825">135</text></g>
<g id="D133" class="g"><circle cx="958" cy="846" r="20"/><text x="958" y="851">133</text></g>
<g id="D134" class="g"><circle cx="980" cy="850" r="20"/><text x="980" y="855">134</text></g>
<g id="D127" class="g"><circle cx="1027" cy="847" r="20"/><text x="1027" y="852">127</text></g>
<g id="D136" class="g"><circle cx="1042" cy="860" r="20"/><text x="1042" y="865">136</text></g>
<g id="D70" class="g"><circle cx="1128" cy="812" r="20"/><text x="1128" y="817">70</text></g>
<g id="D78" class="g"><circle cx="1182" cy="812" r="20"/><text x="1182" y="817">78</text></g>
<g id="D69" class="g"><circle cx="1192" cy="808" r="20"/><text x="1192" y="813">69</text></g>
<g id="D68" class="g"><circle cx="1222" cy="817" r="20"/><text x="1222" y="822">68</text></g>
<g id="D77" class="g"><circle cx="1218" cy="826" r="20"/><text x="1218" y="831">77</text></g>
<g id="D67" class="g"><circle cx="1273" cy="846" r="20"/><text x="1273" y="851">67</text></g>
<g id="D66" class="g"><circle cx="1273" cy="900" r="20"/><text x="1273" y="905">66</text></g>
<g id="D76" class="g"><circle cx="1166" cy="862" r="20"/><text x="1166" y="867">76</text></g>
<g id="D79" class="g"><circle cx="1170" cy="872" r="20"/><text x="1170" y="877">79</text></g>
<g id="D71" class="g"><circle cx="1100" cy="868" r="20"/><text x="1100" y="873">71</text></g>
<g id="D72" class="g"><circle cx="1105" cy="878" r="20"/><text x="1105" y="883">72</text></g>
<g id="D73" class="g"><circle cx="1108" cy="925" r="20"/><text x="1108" y="930">73</text></g>
<g id="D126" class="g"><circle cx="1037" cy="910" r="20"/><text x="1037" y="915">126</text></g>
<g id="D137" class="g"><circle cx="1027" cy="925" r="20"/><text x="1027" y="930">137</text></g>
<g id="D138" class="g"><circle cx="1000" cy="918" r="20"/><text x="1000" y="923">138</text></g>
<g id="D125" class="g"><circle cx="972" cy="922" r="20"/><text x="972" y="927">125</text></g>
<g id="D139" class="g"><circle cx="940" cy="935" r="20"/><text x="940" y="940">139</text></g>
<g id="D74" class="g"><circle cx="1162" cy="962" r="20"/><text x="1162" y="967">74</text></g>
<g id="D80" class="y"><circle cx="1183" cy="906" r="20"/><text x="1183" y="911">80</text></g>
<g id="D75" class="y"><circle cx="1178" cy="922" r="20"/><text x="1178" y="927">75</text></g>
<g id="D65" class="y"><circle cx="1213" cy="912" r="20"/><text x="1213" y="917">65</text></g>
<g id="D81" class="y"><circle cx="1228" cy="953" r="20"/><text x="1228" y="958">81</text></g>
<g id="D62" class="o"><circle cx="1105" cy="972" r="20"/><text x="1105" y="977">62</text></g>
<g id="D63" class="y"><circle cx="1130" cy="973" r="20"/><text x="1130" y="978">63</text></g>
<g id="D83" class="y"><circle cx="1143" cy="980" r="20"/><text x="1143" y="985">83</text></g>
<g id="D64" class="y"><circle cx="1195" cy="977" r="20"/><text x="1195" y="982">64</text></g>
<g id="D82" class="y"><circle cx="1185" cy="1000" r="20"/><text x="1185" y="1005">82</text></g>
<g id="D49" class="y"><circle cx="1191" cy="1022" r="20"/><text x="1191" y="1027">49</text></g>
<g id="D85" class="y"><circle cx="1087" cy="1017" r="20"/><text x="1087" y="1022">85</text></g>
<g id="D61" class="o"><circle cx="1110" cy="1022" r="20"/><text x="1110" y="1027">61</text></g>
<g id="D84" class="y"><circle cx="1143" cy="1037" r="20"/><text x="1143" y="1042">84</text></g>
<g id="D48" class="y"><circle cx="1147" cy="1050" r="20"/><text x="1147" y="1055">48</text></g>
<g id="D46" class="y"><circle cx="1112" cy="1055" r="20"/><text x="1112" y="1060">46</text></g>
<g id="D47" class="y"><circle cx="1163" cy="1068" r="20"/><text x="1163" y="1073">47</text></g>
<g id="D50" class="o"><circle cx="1192" cy="1072" r="20"/><text x="1192" y="1077">50</text></g>
<g id="D60" class="o"><circle cx="1113" cy="1087" r="20"/><text x="1113" y="1092">60</text></g>
<g id="D45" class="o"><circle cx="1070" cy="1082" r="20"/><text x="1070" y="1087">45</text></g>
<g id="D59" class="o"><circle cx="1083" cy="1093" r="20"/><text x="1083" y="1098">59</text></g>
<g id="D58" class="o"><circle cx="1030" cy="1090" r="20"/><text x="1030" y="1095">58</text></g>
<g id="D124" class="n"><circle cx="990" cy="985" r="20"/><text x="990" y="990">124</text></g>
<g id="D140" class="n"><circle cx="957" cy="1000" r="20"/><text x="957" y="1005">140</text></g>
<g id="D141" class="n"><circle cx="918" cy="1020" r="20"/><text x="918" y="1025">141</text></g>
<g id="D123" class="n"><circle cx="940" cy="1030" r="20"/><text x="940" y="1035">123</text></g>
<g id="D44" class="n"><circle cx="1012" cy="1060" r="20"/><text x="1012" y="1065">44</text></g>
<g id="D86" class="n"><circle cx="1042" cy="1060" r="20"/><text x="1042" y="1065">86</text></g>
<g id="D122" class="n"><circle cx="908" cy="1057" r="20"/><text x="908" y="1062">122</text></g>
<g id="D142" class="n"><circle cx="928" cy="1072" r="20"/><text x="928" y="1077">142</text></g>
<g id="D120" class="n"><circle cx="975" cy="1098" r="20"/><text x="975" y="1103">120</text></g>
<g id="D143" class="n"><circle cx="978" cy="1110" r="20"/><text x="978" y="1115">143</text></g>
<g id="D121" class="n"><circle cx="917" cy="1108" r="20"/><text x="917" y="1113">121</text></g>
<g id="D87" class="n"><circle cx="1038" cy="1127" r="20"/><text x="1038" y="1132">87</text></g>
<g id="D119" class="n"><circle cx="1033" cy="1140" r="20"/><text x="1033" y="1145">119</text></g>
<g id="D88" class="n"><circle cx="995" cy="1153" r="20"/><text x="995" y="1158">88</text></g>
<g id="D118" class="y"><circle cx="1078" cy="1132" r="20"/><text x="1078" y="1137">118</text></g>
<g id="D117" class="y"><circle cx="1144" cy="1142" r="20"/><text x="1144" y="1147">117</text></g>
<g id="D55" class="o"><circle cx="1043" cy="1165" r="20"/><text x="1043" y="1170">55</text></g>
<g id="D56" class="o"><circle cx="1030" cy="1190" r="20"/><text x="1030" y="1195">56</text></g>
<g id="D116" class="o"><circle cx="1175" cy="1138" r="20"/><text x="1175" y="1143">116</text></g>
<g id="D115" class="o"><circle cx="1228" cy="1115" r="20"/><text x="1228" y="1120">115</text></g>
<g id="D114" class="o"><circle cx="1280" cy="1152" r="20"/><text x="1280" y="1157">114</text></g>
<g id="DB1" class="b"><circle cx="1305" cy="995" r="20"/></g>
<g id="DB2" class="b"><circle cx="1268" cy="1040" r="20"/></g>
<g id="DB3" class="b"><circle cx="1446" cy="1030" r="20"/></g>
<g id="DB4" class="b"><circle cx="1400" cy="1055" r="20"/></g>
<g id="DB5" class="b"><circle cx="1465" cy="1085" r="20"/></g>
<g id="DB6" class="b"><circle cx="1250" cy="1090" r="20"/></g>
<g id="DB7" class="b"><circle cx="1315" cy="1108" r="20"/></g>
<g id="DB8" class="b"><circle cx="1460" cy="1122" r="20"/></g>
<g id="DB9" class="b"><circle cx="1370" cy="1158" r="20"/></g>
<g id="DB10" class="b"><circle cx="1220" cy="1170" r="20"/></g>
<g id="DB11" class="b"><circle cx="1423" cy="1178" r="20"/></g>
<g id="DB12" class="b"><circle cx="1175" cy="1185" r="20"/></g>
<g id="DB13" class="b"><circle cx="1123" cy="1200" r="20"/></g>
<g id="DB14" class="b"><circle cx="1330" cy="1205" r="20"/></g>
<g id="DB15" class="b"><circle cx="1272" cy="1207" r="20"/></g>
<g id="DB16" class="b"><circle cx="1415" cy="1220" r="20"/></g>
<g id="DB17" class="b"><circle cx="1450" cy="1220" r="20"/></g>
<g id="DB18" class="b"><circle cx="1218" cy="1235" r="20"/></g>
<g id="DB19" class="b"><circle cx="1360" cy="1240" r="20"/></g>
<g id="D103" class="e"><circle cx="1292" cy="971" r="20"/><text x="1292" y="976">103</text></g>
<g id="D110" class="e"><circle cx="1335" cy="991" r="20"/><text x="1335" y="996">110</text></g>
<g id="D109" class="e"><circle cx="1385" cy="975" r="20"/><text x="1385" y="980">109</text></g>
<g id="D104" class="e"><circle cx="1286" cy="1027" r="20"/><text x="1286" y="1032">104</text></g>
<g id="D108" class="e"><circle cx="1422" cy="1024" r="20"/><text x="1422" y="1029">108</text></g>
<g id="D105" class="e"><circle cx="1340" cy="1058" r="20"/><text x="1340" y="1063">105</text></g>
<g id="D107" class="e"><circle cx="1406" cy="1086" r="20"/><text x="1406" y="1091">107</text></g>
<g id="D112" class="e"><circle cx="1282" cy="1090" r="20"/><text x="1282" y="1095">112</text></g>
<g id="D106" class="e"><circle cx="1356" cy="1117" r="20"/><text x="1356" y="1122">106</text></g>
<g id="D113" class="e"><circle cx="1307" cy="1144" r="20"/><text x="1307" y="1149">113</text></g>
<g id="D144" class="r"><circle cx="960" cy="1172" r="20"/><text x="960" y="1177">144</text></g>
<g id="D146" class="r"><circle cx="1080" cy="1195" r="20"/><text x="1080" y="1200">146</text></g>
<g id="D145" class="r"><circle cx="1015" cy="1205" r="20"/><text x="1015" y="1210">145</text></g>
<g id="D147" class="r"><circle cx="1133" cy="1222" r="20"/><text x="1133" y="1227">147</text></g>
<g id="D148" class="r"><circle cx="1195" cy="1207" r="20"/><text x="1195" y="1212">148</text></g>
<g id="D149" class="r"><circle cx="1239" cy="1205" r="20"/><text x="1239" y="1210">149</text></g>
<g id="D150" class="r"><circle cx="1290" cy="1243" r="20"/><text x="1290" y="1248">150</text></g>
<g id="DR1" class="r"><circle cx="1310" cy="1260" r="20"/></g>
<g id="D151" class="r"><circle cx="1345" cy="1260" r="20"/><text x="1345" y="1265">151</text></g>
<g id="DR2" class="r"><circle cx="1250" cy="1265" r="20"/></g>
<g id="D19" class="b"><circle cx="1228" cy="1256" r="20"/><text x="1228" y="1261">19</text></g>
<g id="DR3" class="r"><circle cx="1195" cy="1250" r="20"/></g>
<g id="DR4" class="r"><circle cx="1060" cy="1285" r="20"/></g>
<g id="D10" class="r"><circle cx="990" cy="1255" r="20"/><text x="990" y="1260">10</text></g>
<g id="D152" class="r"><circle cx="1337" cy="1317" r="20"/><text x="1337" y="1322">152</text></g>
<g id="D153" class="r"><circle cx="1383" cy="1356" r="20"/><text x="1383" y="1361">153</text></g>
<g id="D41" class="d"><circle cx="905" cy="1133" r="20"/><text x="905" y="1138">41</text></g>
<g id="D40" class="d"><circle cx="880" cy="1197" r="20"/><text x="880" y="1202">40</text></g>
<g id="D39" class="d"><circle cx="869" cy="1208" r="20"/><text x="869" y="1213">39</text></g>
<g id="D89" class="d"><circle cx="960" cy="1205" r="20"/><text x="960" y="1210">89</text></g>
<g id="D95" class="d"><circle cx="1028" cy="1242" r="20"/><text x="1028" y="1247">95</text></g>
<g id="D96" class="d"><circle cx="1083" cy="1250" r="20"/><text x="1083" y="1255">96</text></g>
<g id="D18" class="d"><circle cx="1168" cy="1250" r="20"/><text x="1168" y="1255">18</text></g>
<g id="D38" class="d"><circle cx="920" cy="1235" r="20"/><text x="920" y="1240">38</text></g>
<g id="D90" class="d"><circle cx="932" cy="1238" r="20"/><text x="932" y="1243">90</text></g>
<g id="D33" class="d"><circle cx="1145" cy="1275" r="20"/><text x="1145" y="1280">33</text></g>
<g id="D35" class="d"><circle cx="1037" cy="1277" r="20"/><text x="1037" y="1282">35</text></g>
<g id="D14" class="d"><circle cx="962" cy="1277" r="20"/><text x="962" y="1282">14</text></g>
<g id="D91" class="d"><circle cx="875" cy="1272" r="20"/><text x="875" y="1277">91</text></g>
<g id="D93" class="d"><circle cx="920" cy="1280" r="20"/><text x="920" y="1285">93</text></g>
<g id="D94" class="d"><circle cx="983" cy="1290" r="20"/><text x="983" y="1295">94</text></g>
<g id="D12" class="d"><circle cx="915" cy="1290" r="20"/><text x="915" y="1295">12</text></g>
<g id="D34" class="d"><circle cx="1083" cy="1293" r="20"/><text x="1083" y="1298">34</text></g>
<g id="D16" class="d"><circle cx="1068" cy="1300" r="20"/><text x="1068" y="1305">16</text></g>
<g id="D37" class="d"><circle cx="925" cy="1300" r="20"/><text x="925" y="1305">37</text></g>
<g id="D17" class="d"><circle cx="1130" cy="1303" r="20"/><text x="1130" y="1308">17</text></g>
<g id="D15" class="d"><circle cx="1018" cy="1307" r="20"/><text x="1018" y="1312">15</text></g>
<g id="D36" class="d"><circle cx="983" cy="1312" r="20"/><text x="983" y="1317">36</text></g>
<g id="D13" class="d"><circle cx="910" cy="1315" r="20"/><text x="910" y="1320">13</text></g>
<g id="D92" class="d"><circle cx="895" cy="1324" r="20"/><text x="895" y="1329">92</text></g>
</g>
</svg>
